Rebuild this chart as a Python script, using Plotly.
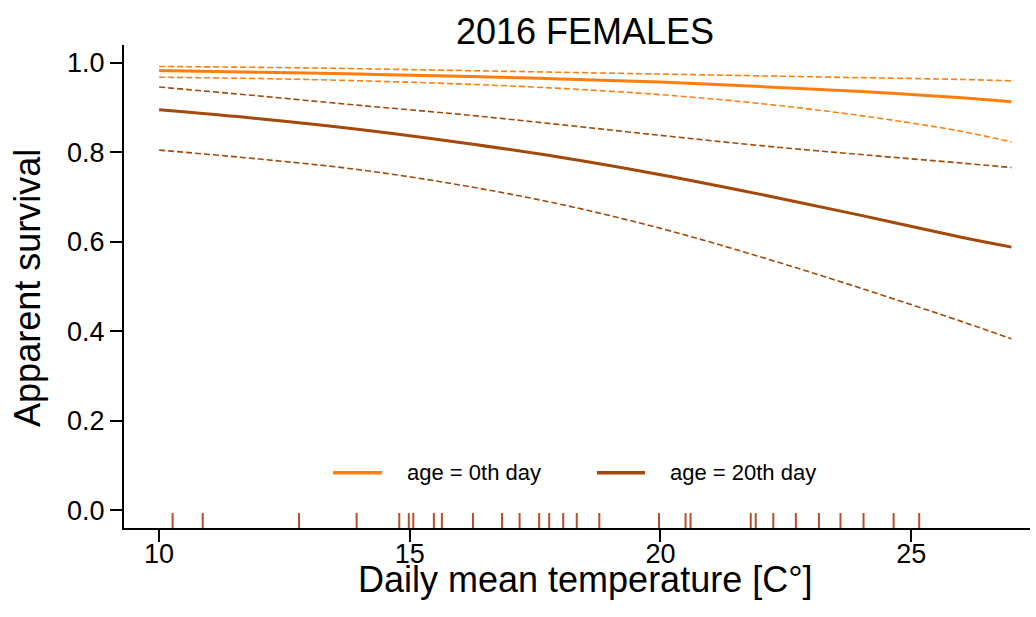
import plotly.graph_objects as go

# ---- data ----
temperature = [10, 12, 14, 16, 18, 20, 22, 24, 26, 27]

age0_fit   = [0.983, 0.979, 0.975, 0.970, 0.964, 0.957, 0.947, 0.936, 0.922, 0.913]
age0_upper = [0.992, 0.990, 0.987, 0.983, 0.979, 0.975, 0.971, 0.967, 0.963, 0.960]
age0_lower = [0.968, 0.965, 0.960, 0.953, 0.943, 0.929, 0.909, 0.882, 0.847, 0.823]

age20_fit   = [0.895, 0.875, 0.851, 0.822, 0.789, 0.750, 0.706, 0.659, 0.610, 0.588]
age20_upper = [0.946, 0.926, 0.905, 0.885, 0.862, 0.838, 0.815, 0.795, 0.776, 0.766]
age20_lower = [0.805, 0.785, 0.761, 0.727, 0.684, 0.630, 0.566, 0.496, 0.422, 0.383]

rug_temps = [10.27, 10.87, 12.79, 13.94, 14.79, 14.98, 15.07, 15.48, 15.64, 16.26,
             16.84, 17.19, 17.58, 17.78, 18.06, 18.33, 18.78, 19.97, 20.50, 20.60,
             21.80, 21.90, 22.25, 22.70, 23.16, 23.59, 24.05, 24.65, 25.16]

legend_labels = ["age = 0th day", "age = 20th day"]
x_ticks = [10, 15, 20, 25]
y_ticks = [0.0, 0.2, 0.4, 0.6, 0.8, 1.0]
title_text = "2016 FEMALES"
x_title = "Daily mean temperature [C°]"
y_title = "Apparent survival"

# ---- styles ----
ORANGE = "#FF7F0E"
BROWN = "#A4490A"
RUG = "#B5502A"
FONT = "Liberation Sans, Arial, sans-serif"

fig = go.Figure()

def add_group(fit, upper, lower, color):
    for ys in (upper, lower):
        fig.add_trace(go.Scatter(x=temperature, y=ys, mode="lines", line_shape="spline",
                                 line=dict(color=color, width=1.6, dash="6px,3px"),
                                 showlegend=False, hoverinfo="skip"))
    fig.add_trace(go.Scatter(x=temperature, y=fit, mode="lines", line_shape="spline",
                             line=dict(color=color, width=3),
                             showlegend=False))

add_group(age0_fit, age0_upper, age0_lower, ORANGE)
add_group(age20_fit, age20_upper, age20_lower, BROWN)

shapes = []
for t in rug_temps:
    shapes.append(dict(type="line", xref="x", yref="y domain", x0=t, x1=t, y0=0, y1=0.031,
                       line=dict(color=RUG, width=2)))

# manual legend
legend_items = [(ORANGE, 0.2307, 0.2848, 0.3102), (BROWN, 0.5221, 0.5751, 0.6004)]
annotations = []
for (color, lx0, lx1, tx), label in zip(legend_items, legend_labels):
    shapes.append(dict(type="line", xref="paper", yref="paper", x0=lx0, x1=lx1,
                       y0=0.1145, y1=0.1145, line=dict(color=color, width=3.5)))
    annotations.append(dict(text=label, xref="paper", yref="paper", x=tx, y=0.1145,
                            xanchor="left", yanchor="middle", showarrow=False,
                            font=dict(size=22, color="black", family=FONT)))

# title and axis titles as annotations for exact placement
annotations.append(dict(text=title_text, xref="paper", yref="paper", x=0.509, y=1.027,
                        xanchor="center", yanchor="middle", showarrow=False,
                        font=dict(size=36, color="black", family=FONT)))
annotations.append(dict(text=x_title, xref="paper", yref="paper", x=0.509, y=-0.107,
                        xanchor="center", yanchor="middle", showarrow=False,
                        font=dict(size=36, color="black", family=FONT)))
annotations.append(dict(text=y_title, xref="paper", yref="paper", x=-0.106, y=0.497,
                        xanchor="center", yanchor="middle", showarrow=False, textangle=-90,
                        font=dict(size=36, color="black", family=FONT)))

fig.update_layout(
    width=1036, height=617,
    margin=dict(l=124, r=6, t=45, b=89, autoexpand=False),
    paper_bgcolor="white", plot_bgcolor="white",
    font=dict(family=FONT, color="black"),
    shapes=shapes,
    annotations=annotations,
    showlegend=False,
)

fig.update_xaxes(range=[9.30, 27.37], tickvals=x_ticks, ticks="outside", ticklen=12,
                 tickwidth=2, tickcolor="black", showline=True, linecolor="black",
                 linewidth=2, showgrid=False, zeroline=False, automargin=False,
                 ticklabelstandoff=-11,
                 tickfont=dict(size=27, color="black"))
fig.update_yaxes(range=[-0.04, 1.04], tickvals=y_ticks, tickformat=".1f", ticks="outside",
                 ticklen=12, tickwidth=2, tickcolor="black", showline=True, linecolor="black",
                 linewidth=2, showgrid=False, zeroline=False, automargin=False,
                 tickfont=dict(size=27, color="black"))

fig.write_html("out.html",
               config={"displayModeBar": False},
               post_script="document.body.style.margin='0';document.body.style.overflow='hidden';")
